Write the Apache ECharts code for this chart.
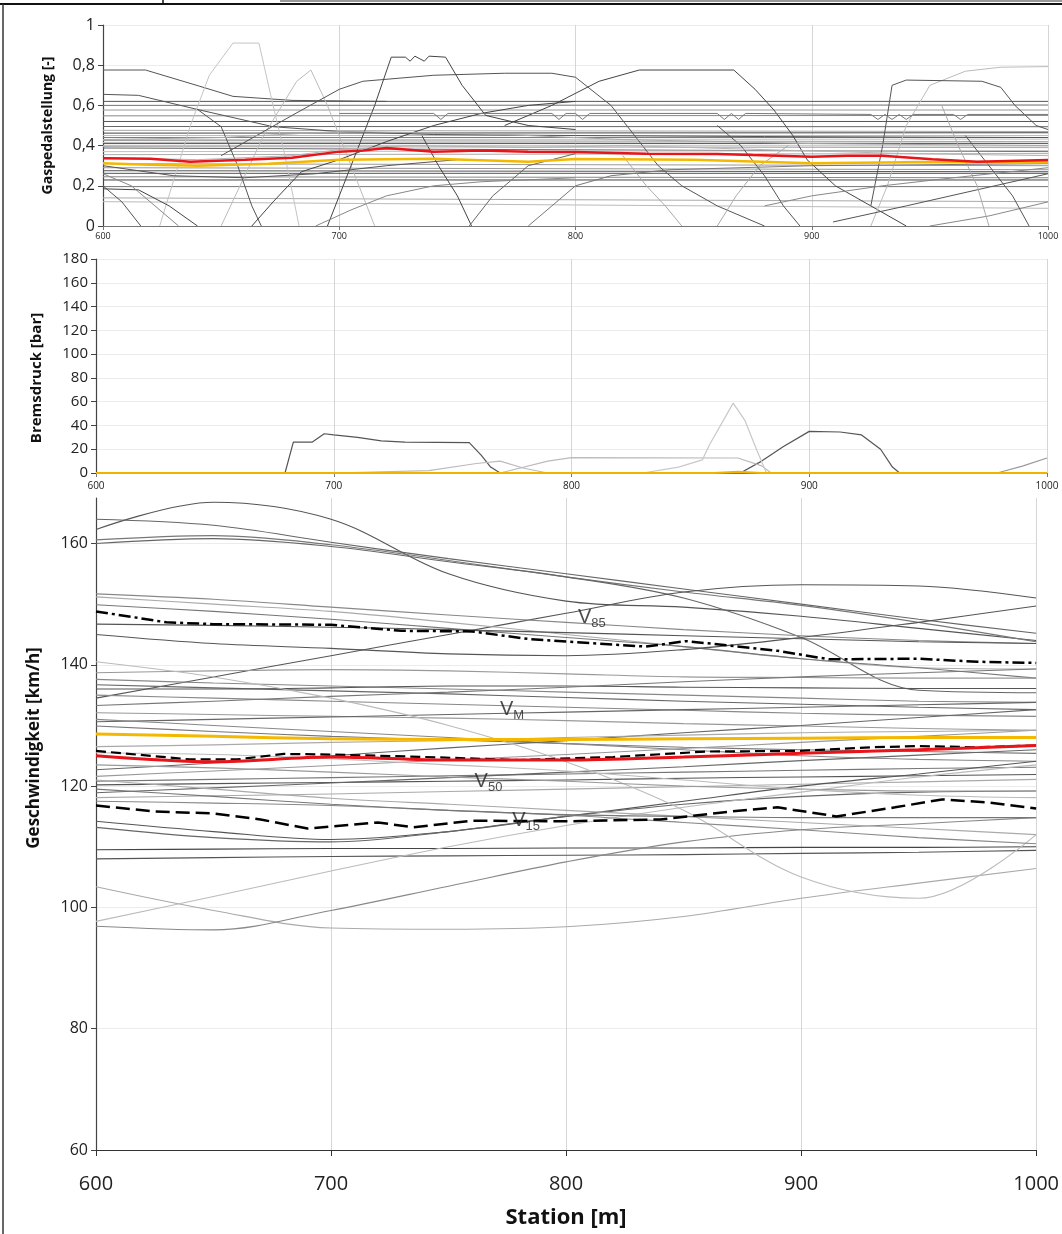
<!DOCTYPE html>
<html><head><meta charset="utf-8">
<script src="https://cdn.jsdelivr.net/npm/echarts/dist/echarts.min.js"></script>
<style>html,body{margin:0;padding:0;background:#fff}#c{width:1062px;height:1234px}</style>
</head><body><div id="c"></div>
<script>
// ---------------- DATA ----------------
const stationTicks = [600, 700, 800, 900, 1000];

// Gaspedalstellung: nearly constant runs (value at 600 m and at 1000 m)
const pedalFlatStart = [0.62, 0.60, 0.577, 0.548, 0.52, 0.495, 0.476, 0.462, 0.45, 0.44, 0.43, 0.425, 0.415, 0.41, 0.40, 0.395, 0.388, 0.37, 0.355, 0.31, 0.29, 0.275, 0.262, 0.245, 0.229, 0.196, 0.14, 0.121];
const pedalFlatEnd   = [0.62, 0.602, 0.577, 0.55, 0.52, 0.494, 0.47, 0.464, 0.45, 0.44, 0.432, 0.42, 0.418, 0.41, 0.398, 0.39, 0.37, 0.375, 0.36, 0.30, 0.28, 0.27, 0.262, 0.24, 0.229, 0.196, 0.121, 0.088];
// Gaspedalstellung: varying runs [station, value]
const pedalRuns = [
  [[600,0.776],[618,0.776],[641,0.695],[655,0.645],[680,0.625],[720,0.62]],
  [[600,0.655],[615,0.65],[641,0.577],[672,0.494],[700,0.47],[740,0.455],[800,0.45],[880,0.445],[1000,0.44]],
  [[624,0],[637,0.5],[645,0.75],[655,0.91],[666,0.91],[671,0.65],[677,0.35],[683,0]],
  [[650,0],[668,0.45],[682,0.72],[688,0.776],[695,0.6],[705,0.3],[715,0]],
  [[600,0.2],[608,0.12],[616,0]],
  [[600,0.185],[615,0.18],[628,0.1],[640,0]],
  [[600,0.26],[612,0.2],[622,0.1],[632,0]],
  [[640,0.58],[650,0.494],[657,0.3],[663,0.1],[667,0]],
  [[663,0],[672,0.12],[684,0.27],[700,0.33],[720,0.42],[740,0.5],[760,0.56],[780,0.6],[800,0.62]],
  [[650,0.35],[680,0.55],[700,0.68],[710,0.72],[740,0.75],[770,0.76],[790,0.76],[800,0.74],[815,0.6],[825,0.45],[835,0.3],[845,0.2],[860,0.1],[880,0]],
  [[695,0],[705,0.3],[715,0.6],[722,0.84],[728,0.84],[730,0.82],[732,0.845],[736,0.82],[738,0.845],[745,0.84],[752,0.7],[762,0.55],[780,0.5],[800,0.48]],
  [[770,0.5],[790,0.6],[810,0.72],[827,0.776],[867,0.776],[876,0.68],[884,0.577],[892,0.45],[898,0.33],[910,0.2],[925,0.1],[940,0]],
  [[925,0],[932,0.2],[940,0.5],[950,0.7],[965,0.77],[980,0.79],[1000,0.793]],
  [[925,0.1],[930,0.4],[934,0.7],[940,0.726],[972,0.72],[980,0.69],[986,0.6],[995,0.5],[1000,0.48]],
  [[909,0.02],[940,0.1],[970,0.18],[1000,0.26]],
  [[950,0],[975,0.05],[1000,0.12]],
  [[735,0.45],[742,0.3],[750,0.15],[756,0]],
  [[755,0],[765,0.15],[780,0.3],[800,0.36]],
  [[820,0.35],[830,0.2],[838,0.1],[845,0]],
  [[860,0],[868,0.15],[878,0.3],[890,0.4]],
  [[600,0.3],[630,0.25],[660,0.24],[690,0.26],[720,0.3],[750,0.33]],
  [[690,0],[705,0.08],[720,0.15],[740,0.2],[760,0.22],[800,0.24]],
  [[860,0.5],[870,0.4],[880,0.25],[888,0.1],[895,0]],
  [[955,0.6],[962,0.4],[970,0.2],[975,0]],
  [[965,0.45],[975,0.3],[985,0.15],[992,0]],
  [[880,0.1],[900,0.15],[930,0.2],[960,0.24],[1000,0.29]],
  [[700,0.56],[740,0.56],[743,0.53],[746,0.56],[790,0.56],[793,0.53],[796,0.56],[800,0.56],[803,0.53],[806,0.56],[860,0.56],[863,0.53],[866,0.56],[869,0.53],[872,0.56],[925,0.555],[928,0.53],[931,0.555],[934,0.53],[937,0.555],[940,0.53],[943,0.555],[960,0.555],[963,0.53],[966,0.555],[1000,0.555]],
  [[600,0.34],[640,0.33],[680,0.35],[700,0.38],[730,0.4],[780,0.39],[820,0.4],[880,0.38],[940,0.36],[1000,0.35]],
  [[600,0.43],[650,0.44],[700,0.47],[760,0.46],[820,0.43],[900,0.41],[1000,0.40]],
  [[780,0],[790,0.1],[800,0.2],[815,0.25],[840,0.28],[900,0.3],[1000,0.31]]
];
const pedalMedian = [[600,0.337],[620,0.335],[637,0.32],[660,0.33],[680,0.34],[700,0.37],[710,0.375],[720,0.388],[740,0.37],[760,0.375],[780,0.37],[800,0.368],[830,0.36],[860,0.358],[875,0.353],[900,0.345],[915,0.35],[930,0.35],[951,0.332],[970,0.32],[1000,0.328]];
const pedalMean = [[600,0.312],[620,0.305],[640,0.30],[670,0.31],[700,0.33],[740,0.335],[780,0.32],[800,0.333],[850,0.33],[900,0.312],[950,0.318],[1000,0.317]];

// Bremsdruck [station, bar]
const brakeRuns = [
  [[600,0],[679.5,0],[683,26],[691,26],[696,33],[700,32],[710,30],[720,27],[730,26],[757,25.5],[762,15],[766,5],[770,0]],
  [[871,0],[880,10],[889,22],[900,35],[913,34.5],[922,32],[930,20],[935,5],[938,0]],
  [[700,0],[740,2],[760,8],[770,10],[780,4],[790,0]],
  [[770,0],[790,10],[800,13],[870,12.6],[880,6],[884,0]],
  [[830,0],[845,5],[855,11],[858,23.5],[868,58.8],[873,44],[878,19],[882,0]],
  [[979,0],[990,6],[1000,12.6]]
];
const brakeMean = [[600,0],[860,0],[870,1],[880,0],[1000,0]];

// Geschwindigkeit [km/h] at these stations
const speedStations = [600, 650, 700, 750, 800, 850, 900, 950, 1000];
const speedRuns = [
  [162.3, 166.8, 164.0, 155.0, 150.5, 149.5, 148.0, 146.0, 144.0],
  [164.0, 163.0, 160.2, 157.5, 155.0, 152.5, 150.0, 147.5, 145.2],
  [160.6, 161.3, 159.8, 157.2, 154.5, 152.0, 149.8, 147.0, 143.8],
  [160.0, 160.8, 159.5, 157.0, 154.5, 151.0, 144.5, 135.8, 135.4],
  [134.5, 138.0, 141.5, 145.0, 148.5, 152.0, 153.2, 153.0, 151.0],
  [151.7, 150.8, 149.5, 148.2, 147.0, 145.8, 144.8, 144.0, 143.5],
  [151.2, 150.0, 148.8, 147.0, 145.0, 143.0, 141.0, 139.5, 139.3],
  [149.9, 148.8, 147.5, 146.0, 144.5, 143.0, 141.0, 139.5, 137.8],
  [146.7, 146.5, 146.2, 145.8, 145.3, 144.8, 144.3, 143.8, 143.5],
  [145.0, 143.5, 142.7, 141.8, 141.5, 142.5, 144.5, 147.0, 149.7],
  [138.7, 139.0, 139.2, 139.0, 138.5, 138.0, 137.9, 137.8, 137.8],
  [137.6, 137.0, 136.5, 136.0, 135.5, 135.0, 134.5, 134.0, 133.8],
  [136.7, 136.2, 135.7, 135.2, 134.6, 134.0, 133.5, 133.0, 132.6],
  [136.0, 136.0, 136.2, 136.5, 136.5, 136.3, 136.2, 136.1, 136.1],
  [135.0, 134.5, 134.0, 133.5, 133.0, 132.5, 132.0, 131.7, 131.5],
  [133.3, 134.0, 134.8, 135.5, 136.3, 137.2, 138.0, 138.7, 139.3],
  [132.1, 131.8, 131.5, 131.2, 130.8, 130.3, 129.9, 129.5, 129.2],
  [130.6, 131.0, 131.4, 131.8, 132.2, 132.6, 133.0, 133.4, 133.8],
  [129.9, 129.0, 128.2, 127.6, 127.0, 126.4, 126.0, 125.7, 125.4],
  [131.0, 130.0, 129.0, 128.0, 127.0, 126.0, 125.0, 124.4, 124.1],
  [122.7, 123.8, 125.0, 126.3, 127.5, 128.8, 130.0, 131.3, 132.6],
  [121.6, 122.5, 123.4, 124.3, 125.2, 126.2, 127.2, 128.2, 129.2],
  [120.8, 121.1, 121.4, 121.7, 122.0, 122.3, 122.6, 122.9, 123.1],
  [120.2, 120.4, 120.6, 120.8, 121.0, 121.3, 121.5, 121.7, 121.9],
  [118.9, 119.7, 120.5, 121.4, 122.3, 123.2, 124.2, 125.1, 126.0],
  [118.1, 118.4, 118.7, 119.1, 119.5, 119.9, 120.3, 120.7, 121.1],
  [114.2, 112.5, 111.2, 112.5, 115.0, 117.5, 120.0, 122.0, 124.1],
  [113.2, 111.5, 110.8, 112.5, 115.0, 117.0, 118.3, 119.0, 119.2],
  [109.5, 109.6, 109.7, 109.7, 109.8, 109.8, 109.9, 109.9, 110.0],
  [108.0, 108.2, 108.4, 108.5, 108.6, 108.7, 108.9, 109.1, 109.4],
  [103.4, 99.5, 96.6, 96.4, 96.8, 98.5, 101.5, 104.0, 106.4],
  [97.7, 101.8, 106.0, 110.0, 113.5, 116.5, 119.0, 121.5, 123.5],
  [96.9, 96.3, 99.5, 103.5, 107.5, 110.8, 112.8, 113.8, 114.8],
  [140.5, 138.0, 134.5, 130.0, 124.0, 116.0, 105.0, 101.5, 112.0],
  [121.0, 119.5, 118.0, 117.0, 116.0, 115.0, 114.0, 113.0, 112.0],
  [117.5, 117.2, 116.8, 116.0, 115.2, 114.0, 112.8, 111.5, 110.5],
  [123.5, 123.0, 122.3, 121.5, 120.8, 120.0, 119.5, 119.2, 119.2],
  [125.5, 125.2, 124.5, 123.5, 122.5, 121.0, 119.5, 118.5, 118.1],
  [119.5, 118.3, 117.0, 116.0, 115.3, 115.0, 114.8, 114.8, 114.8],
  [126.5, 126.8, 127.2, 127.5, 128.0, 128.4, 128.8, 129.0, 129.2]
];
const speedMean   = [128.6, 128.2, 127.8, 127.7, 127.7, 127.8, 127.9, 128.0, 128.0];
const speedMedianRed = [125.0, 124.0, 124.8, 124.3, 124.3, 124.8, 125.4, 126.0, 126.7];
const speedV85 = [[600,148.8],[630,147.0],[650,146.7],[700,146.6],[730,145.6],[760,145.5],[785,144.2],[834,143.0],[851,143.9],[869,143.2],[890,142.3],[912,140.9],[950,141.0],[975,140.5],[1000,140.3]];
const speedV50 = [[600,125.8],[640,124.4],[660,124.4],[680,125.3],[700,125.2],[740,124.8],[780,124.3],[820,124.8],[860,125.7],[900,125.8],[930,126.4],[950,126.6],[975,126.4],[1000,126.7]];
const speedV15 = [[600,116.8],[625,115.8],[650,115.5],[670,114.5],[690,113.0],[720,114.0],[735,113.2],[760,114.3],[800,114.2],[840,114.5],[870,115.8],[890,116.5],[915,115.0],[940,116.5],[960,117.8],[980,117.3],[1000,116.3]];
const speedLabelStation = [811, 777, 767, 783];
const speedLabelValue   = [147.8, 132.6, 120.8, 114.3];
const speedLabelSub     = ['85', 'M', '50', '15'];

// ---------------- STYLE ----------------
const pedalFlatShade = ['#555','#777','#999','#888','#555','#666','#aaa','#444','#bbb','#777','#c4c4c4','#999','#bbb','#555','#bbb','#aaa','#666','#c0c0c0','#aaa','#999','#999','#555','#555','#888','#444','#777','#aaa','#bbb'];
const pedalRunShade = ['#555','#555','#c4c4c4','#bbb','#555','#444','#888','#555','#444','#555','#444','#444','#bbb','#555','#555','#888','#444','#666','#aaa','#aaa','#555','#888','#555','#aaa','#555','#888','#777','#b5b5b5','#aaa','#777'];
const brakeShade = ['#555','#555','#bbb','#bbb','#c8c8c8','#999'];
const speedShade = ['#555','#666','#777','#666','#555','#888','#aaa','#777','#555','#555','#999','#888','#666','#555','#888','#777','#999','#666','#777','#888','#666','#999','#777','#555','#666','#aaa','#555','#666','#444','#555','#aaa','#bbb','#888','#bbb','#aaa','#888','#999','#bbb','#777','#aaa'];

const FONT = '"Open Sans", "Liberation Sans", sans-serif';
const comma = v => String(v).replace('.', ',');
const plain = v => String(v);

const series = [];
function line(xi, data, color, width, extra) {
  series.push(Object.assign({
    type: 'line', xAxisIndex: xi, yAxisIndex: xi, data: data,
    showSymbol: false, symbol: 'none', silent: true, animation: false,
    lineStyle: { color: color, width: width }
  }, extra || {}));
}
// pedal
pedalFlatStart.forEach((v, i) => line(0, [[600, v], [1000, pedalFlatEnd[i]]], pedalFlatShade[i], 1));
pedalRuns.forEach((r, i) => line(0, r, pedalRunShade[i], 1));
line(0, pedalMean, '#f5b800', 2.5);
line(0, pedalMedian, '#e8141a', 2.5);
// brake
brakeRuns.forEach((r, i) => line(1, r, brakeShade[i], 1.2));
line(1, brakeMean, '#f0b400', 2);
// speed
speedRuns.forEach((r, i) => line(2, speedStations.map((s, k) => [s, r[k]]), speedShade[i], 1.1, { smooth: 0.35 }));
line(2, speedStations.map((s, k) => [s, speedMean[k]]), '#f5b800', 3, { smooth: 0.3 });
line(2, speedV50, '#000', 2.2, { lineStyle: { color: '#000', width: 2.2, type: [10, 5] } });
line(2, speedStations.map((s, k) => [s, speedMedianRed[k]]), '#e8141a', 3, { smooth: 0.3 });
line(2, speedV85, '#000', 2.5, { lineStyle: { color: '#000', width: 2.5, type: [12, 4, 3, 4] } });
line(2, speedV15, '#000', 2.5, { lineStyle: { color: '#000', width: 2.5, type: [14, 6] } });
series.push({
  type: 'scatter', xAxisIndex: 2, yAxisIndex: 2, symbolSize: 0, silent: true, animation: false, z: 10,
  data: speedLabelStation.map((s, i) => ({ value: [s, speedLabelValue[i]], sub: speedLabelSub[i] })),
  label: {
    show: true, position: 'inside',
    formatter: p => '{v|V}{s|' + p.data.sub + '}',
    rich: {
      v: { fontSize: 20, fontFamily: '"Liberation Sans Narrow", "Liberation Sans", sans-serif', color: '#222' },
      s: { fontSize: 13, fontFamily: '"Liberation Sans Narrow", "Liberation Sans", sans-serif', color: '#222', padding: [12, 0, 0, 0] }
    }
  }
});

function xAx(gi, fs, margin, extra) {
  return Object.assign({
    type: 'value', gridIndex: gi, min: 600, max: 1000, interval: 100,
    axisLine: { show: true, lineStyle: { color: '#777', width: 1 } },
    axisTick: { show: true, length: 4, lineStyle: { color: '#777' } },
    axisLabel: { fontSize: fs, color: '#222', margin: margin, fontFamily: FONT, formatter: plain },
    splitLine: { show: true, lineStyle: { color: '#d6d6d6', width: 1 } }
  }, extra || {});
}
function yAx(gi, min, max, interval, name, nameSize, nameGap, labelSize, extra) {
  return Object.assign({
    type: 'value', gridIndex: gi, min: min, max: max, interval: interval,
    name: name, nameLocation: 'middle', nameGap: nameGap,
    nameTextStyle: { fontSize: nameSize, fontWeight: 'bold', color: '#111', fontFamily: FONT },
    axisLine: { show: true, lineStyle: { color: '#444', width: 1.2 } },
    axisTick: { show: true, length: 5, lineStyle: { color: '#444' } },
    axisLabel: { fontSize: labelSize, color: '#222', margin: 8, fontFamily: FONT },
    splitLine: { show: true, lineStyle: { color: '#ececec', width: 1 } }
  }, extra || {});
}

const option = {
  backgroundColor: '#fff',
  animation: false,
  grid: [
    { left: 103, right: 14, top: 25, height: 201 },
    { left: 96, right: 15, top: 259, height: 214 },
    { left: 96, right: 20, top: 498, height: 659 }
  ],
  xAxis: [
    xAx(0, 9, 6),
    xAx(1, 10, 8),
    xAx(2, 20, 24, {
      name: 'Station [m]', nameLocation: 'middle', nameGap: 57,
      nameTextStyle: { fontSize: 22, fontWeight: 'bold', color: '#111', fontFamily: FONT },
      axisLine: { show: true, lineStyle: { color: '#333', width: 1.2 } },
      axisTick: { show: true, length: 6, lineStyle: { color: '#333' } }
    })
  ],
  yAxis: [
    yAx(0, 0, 1, 0.2, 'Gaspedalstellung [-]', 14, 48, 16, {
      axisLabel: { fontSize: 16, color: '#222', margin: 8, fontFamily: FONT, formatter: comma }
    }),
    yAx(1, 0, 180, 20, 'Bremsdruck [bar]', 15, 52, 15, {
      nameTextStyle: { fontSize: 15, fontWeight: 'bold', color: '#111', fontFamily: FONT, padding: [0, 24, 0, 0] }
    }),
    yAx(2, 60, 167.5, 20, 'Geschwindigkeit [km/h]', 17, 53, 16, {
      nameTextStyle: { fontSize: 17, fontWeight: 'bold', color: '#111', fontFamily: FONT, padding: [0, 0, 0, 152] },
      axisLabel: { fontSize: 16, color: '#222', margin: 8, fontFamily: FONT, showMaxLabel: false },
      splitLine: { show: true, showMaxLine: false, lineStyle: { color: '#ececec', width: 1 } }
    })
  ],
  graphic: [
    { type: 'line', shape: { x1: 0, y1: 4, x2: 1062, y2: 4 }, style: { stroke: '#111', lineWidth: 2 }, silent: true },
    { type: 'line', shape: { x1: 163, y1: 0, x2: 163, y2: 4 }, style: { stroke: '#111', lineWidth: 1.5 }, silent: true },
    { type: 'rect', shape: { x: 280, y: 0, width: 782, height: 2 }, style: { fill: '#999' }, silent: true },
    { type: 'line', shape: { x1: 3, y1: 4, x2: 3, y2: 1234 }, style: { stroke: '#333', lineWidth: 1.5 }, silent: true }
  ],
  series: series
};
const chart = echarts.init(document.getElementById('c'), null, { renderer: 'canvas' });
chart.setOption(option);
</script></body></html>
